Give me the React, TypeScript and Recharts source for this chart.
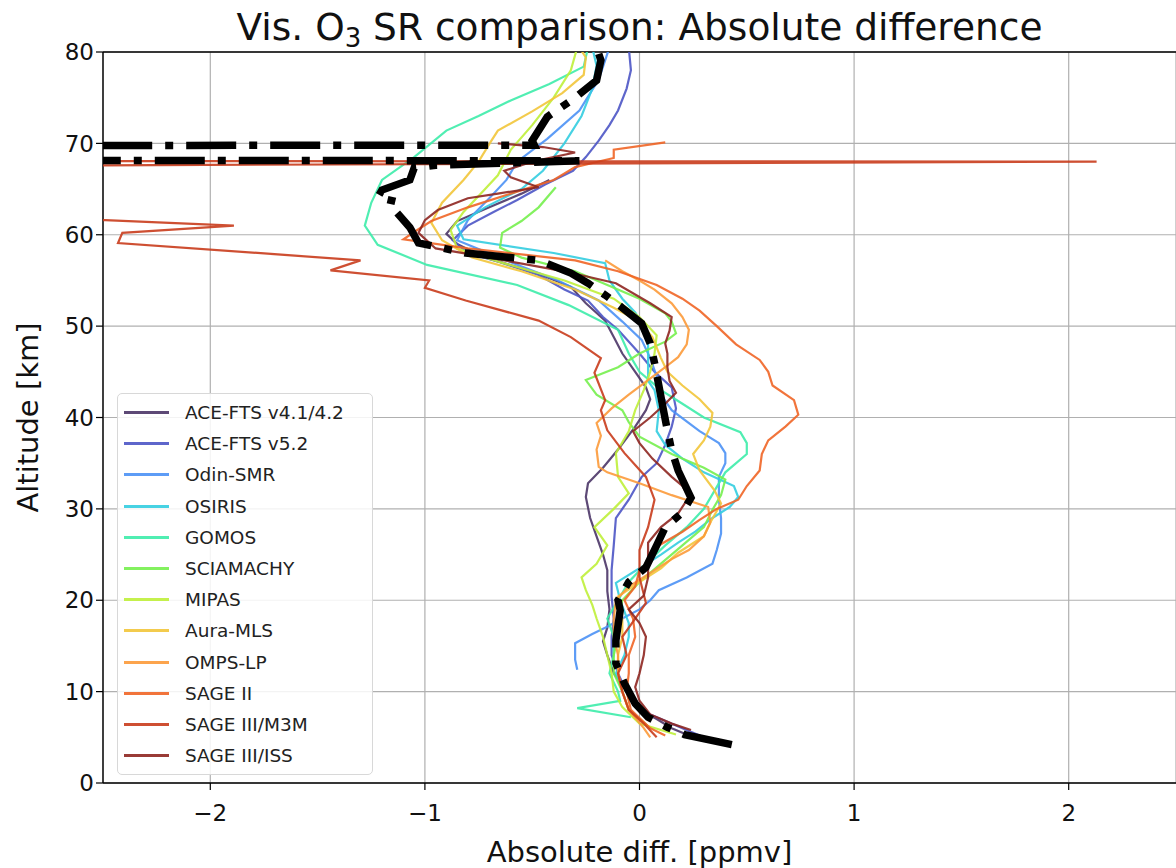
import React from "react";
import {
  ScatterChart,
  Scatter,
  XAxis,
  YAxis,
  CartesianGrid,
  ReferenceLine,
  Legend,
} from "recharts";

// [altitude km, absolute difference ppmv]
const aceFts41: number[][] = [
  [5, 0.25], [6, 0.15], [7, 0.08], [8, 0.0], [10, -0.06], [12, -0.12], [14, -0.15], [15.5, -0.17],
  [17, -0.15], [19, -0.14], [21, -0.15], [23.3, -0.15], [25, -0.17], [27, -0.2], [29, -0.23],
  [31.3, -0.25], [32.8, -0.24], [34.5, -0.17], [36.5, -0.1], [39, -0.02], [40.8, 0.03], [42, 0.05],
  [43.3, 0.03], [45, -0.02], [47, -0.08], [48.8, -0.12], [50.6, -0.16], [52.5, -0.25], [54.3, -0.32],
  [56, -0.5], [57.5, -0.72], [59, -0.85], [60.1, -0.9], [61.5, -0.85], [63, -0.7], [64.5, -0.55], [66, -0.42],
];
const aceFts52: number[][] = [
  [5, 0.3], [6, 0.2], [7, 0.1], [8, 0.0], [10, -0.06], [12, -0.1], [14, -0.13], [16, -0.13], [18, -0.12],
  [20.4, -0.13], [23.3, -0.13], [26, -0.12], [29, -0.11], [31, -0.05], [33.5, 0.01], [35, 0.08], [37, 0.12],
  [39, 0.15], [41, 0.17], [43.3, 0.15], [45, 0.07], [47, 0.0], [49.6, -0.1], [51, -0.17], [52.8, -0.24],
  [54, -0.35], [55.6, -0.47], [57, -0.65], [58, -0.8], [59.4, -0.87], [61, -0.8], [62.5, -0.68],
  [63.8, -0.57], [65.5, -0.44], [67, -0.31], [68.5, -0.25], [70.3, -0.19], [72, -0.14], [73.6, -0.1],
  [76, -0.06], [78, -0.04], [80.5, -0.05],
];
const odinSmr: number[][] = [
  [12.4, -0.29], [13.5, -0.3], [15.3, -0.3], [16.3, -0.22], [17, -0.16], [18, -0.08], [19, 0.0], [20, 0.05],
  [21.1, 0.09], [22.5, 0.22], [24, 0.34], [25.5, 0.36], [27.3, 0.38], [29, 0.38], [31, 0.37], [33.5, 0.37],
  [35, 0.4], [36.1, 0.4], [37.2, 0.37], [38.5, 0.28], [40.8, 0.15], [42.5, 0.1], [44.5, 0.08], [46.5, 0.05],
  [48.5, 0.01], [50.5, -0.08], [52.8, -0.19], [55, -0.38], [57, -0.6], [59.4, -0.85], [61.6, -0.8],
  [64, -0.7], [66, -0.62], [68, -0.57], [70.5, -0.43], [73.6, -0.28], [77, -0.19], [80.5, -0.14],
];
const osiris: number[][] = [
  [10, -0.08], [12, -0.11], [14, -0.07], [16, -0.05], [17.5, -0.05], [20, -0.09], [21.9, -0.11], [23.5, 0.0],
  [25, 0.1], [26.3, 0.18], [27.5, 0.26], [29, 0.34], [30.2, 0.42], [31.3, 0.46], [32.5, 0.44], [34, 0.3],
  [35.5, 0.2], [37, 0.12], [38.5, 0.08], [40.8, 0.09], [43, 0.07], [44, 0.04], [46, 0.04], [48, 0.04],
  [49.6, 0.03], [51.5, -0.02], [53, -0.08], [55, -0.14], [56.9, -0.16], [58, -0.4], [59.5, -0.82],
  [61, -0.85], [63, -0.72], [65, -0.55], [67, -0.45], [70, -0.35], [73, -0.27], [76, -0.22], [78.5, -0.2],
  [80.5, -0.22],
];
const gomos: number[][] = [
  [7.2, -0.04], [8.2, -0.29], [9, -0.09], [10, -0.1], [12, -0.14], [14, -0.12], [16, -0.12], [18, -0.15],
  [20, -0.1], [22, -0.05], [24, 0.03], [26, 0.12], [28, 0.22], [30, 0.3], [32, 0.35], [34, 0.4], [36, 0.5],
  [37.2, 0.5], [38.4, 0.47], [40, 0.3], [41.5, 0.2], [43, 0.1], [45, 0.0], [47, -0.05], [49.6, -0.1],
  [52.3, -0.33], [54.5, -0.57], [56.7, -0.99], [58.9, -1.22], [61, -1.28], [63.5, -1.25], [66, -1.2],
  [68.5, -1.05], [71.4, -0.9], [73, -0.75], [74.7, -0.6], [76.5, -0.42], [78.4, -0.26], [80.5, -0.24],
];
const sciamachy: number[][] = [
  [6, 0.05], [8, -0.05], [10, -0.08], [12, -0.12], [14, -0.12], [16, -0.1], [18, -0.1], [20, -0.08],
  [22, 0.0], [24, 0.1], [26, 0.2], [28, 0.3], [29.9, 0.34], [31.5, 0.38], [33.2, 0.4], [34.5, 0.3],
  [36, 0.15], [37.9, 0.0], [39.5, -0.05], [40.8, -0.08], [42.5, -0.2], [44.1, -0.25], [45.5, -0.1],
  [47, 0.0], [48.3, 0.12], [49.2, 0.17], [50.5, 0.15], [51.4, 0.12], [53, 0.0], [54.5, -0.15], [56, -0.3],
  [57.5, -0.55], [58.6, -0.65], [60.2, -0.64], [61.5, -0.55], [63, -0.47], [65.2, -0.39],
];
const mipas: number[][] = [
  [5.3, 0.17], [6.5, 0.0], [8.3, -0.08], [10, -0.12], [12, -0.13], [14, -0.15], [16, -0.17], [18, -0.2],
  [19.5, -0.22], [21.1, -0.25], [22.5, -0.27], [24, -0.2], [26, -0.15], [28, -0.21], [30, -0.12],
  [31.7, -0.05], [33.5, -0.1], [36.1, -0.11], [38.5, -0.05], [40.8, -0.02], [43, 0.02], [45, 0.05],
  [47, 0.07], [49, 0.08], [51, 0.0], [53, -0.12], [55, -0.35], [57, -0.65], [58.5, -0.85], [60.5, -0.88],
  [62.5, -0.82], [64.5, -0.74], [66.5, -0.66], [69.3, -0.6], [72, -0.5], [75, -0.4], [78, -0.32], [80.5, -0.29],
];
const auraMls: number[][] = [
  [6, 0.05], [8, -0.05], [10, -0.08], [12, -0.1], [14, -0.1], [16, -0.08], [18, -0.08], [20.4, -0.1],
  [22, 0.0], [23.5, 0.1], [25.2, 0.18], [27, 0.3], [28.5, 0.33], [30.6, 0.38], [32, 0.35], [34.2, 0.28],
  [36, 0.25], [37.5, 0.3], [39, 0.33], [40.5, 0.34], [42, 0.28], [43.5, 0.2], [45, 0.13], [46.5, 0.1],
  [48.8, 0.06], [50.5, 0.0], [52, -0.12], [54, -0.3], [56, -0.55], [57.5, -0.78], [59.4, -0.92],
  [61.3, -0.97], [63.5, -0.92], [66, -0.82], [68, -0.75], [70.3, -0.69], [71.4, -0.66], [73.5, -0.5],
  [75.5, -0.36], [77.5, -0.26], [79.4, -0.25], [80.5, -0.28],
];
const ompsLp: number[][] = [
  [5, 0.05], [6, 0.02], [8, -0.05], [10, -0.08], [12, -0.1], [14, -0.1], [16, -0.12], [18, -0.12],
  [20, -0.11], [21.5, -0.05], [23, 0.05], [24.5, 0.15], [25.5, 0.23], [27, 0.3], [28.5, 0.33], [30.2, 0.32],
  [31.5, 0.15], [32.8, 0.0], [34, -0.15], [34.6, -0.19], [36.5, -0.2], [38, -0.18], [39.4, -0.2],
  [41, -0.13], [42.5, -0.05], [44.1, 0.04], [45.5, 0.12], [46.6, 0.18], [48, 0.22], [49.6, 0.23],
  [51, 0.2], [52.5, 0.15], [54, 0.07], [55, 0.0], [56, -0.08], [57.2, -0.16],
];
const sage2: number[][] = [
  [5.2, 0.12], [6, 0.05], [8, -0.04], [10, -0.06], [12, -0.05], [14, -0.05], [16, -0.02], [18, -0.03],
  [20, -0.07], [21.5, -0.02], [23.3, 0.0], [24.5, 0.05], [26, 0.09], [27.5, 0.2], [28.8, 0.28], [30, 0.36],
  [31, 0.46], [32.5, 0.5], [34.2, 0.56], [36, 0.57], [37.5, 0.6], [39, 0.68], [40.3, 0.74], [41.9, 0.72],
  [43.5, 0.62], [45, 0.6], [46.3, 0.56], [48, 0.45], [50, 0.36], [51.7, 0.28], [53, 0.2], [54.5, 0.08],
  [56, -0.1], [57.2, -0.3], [58.5, -0.8], [59.5, -1.1], [60.3, -1.05], [61.5, -0.97], [63, -0.8],
  [64.5, -0.6], [66, -0.4], [67.4, -0.3], [68.4, -0.12], [69.3, -0.12], [70.1, 0.12],
];
const sage3M3m: number[][] = [
  [5, 0.08], [6.5, 0.02], [8, -0.05], [10, -0.08], [12, -0.1], [14, -0.06], [16, -0.08], [18, -0.02],
  [19.7, 0.03], [22.5, 0.0], [25.5, 0.0], [28, 0.04], [31, 0.07], [33.5, 0.03], [36.1, -0.07],
  [38.6, -0.15], [40.8, -0.18], [41.9, -0.16], [44.9, -0.21], [46.5, -0.18], [48.8, -0.32], [50.6, -0.47],
  [52.8, -0.81], [54.2, -1.0], [55, -0.98], [56.1, -1.44], [57.2, -1.3], [59.1, -2.43], [60.2, -2.41],
  [61, -1.89], [61.6, -2.49], [62, -3.5], [66.1, -20], [68.0, 2.13], [68.3, -20],
];
const sage3Iss: number[][] = [
  [5.8, 0.24], [6.5, 0.15], [7.5, 0.05], [9, 0.0], [10.5, -0.02], [12, 0.0], [14, 0.02], [16, 0.03],
  [17.5, 0.0], [19, -0.05], [20.5, 0.02], [22.5, 0.04], [24.5, 0.04], [26.3, 0.04], [28, 0.1], [29.5, 0.18],
  [31.3, 0.23], [32.5, 0.2], [33.5, 0.15], [35.5, 0.06], [37.2, 0.0], [38.5, -0.03], [40, 0.05],
  [41.5, 0.12], [42.7, 0.17], [44, 0.14], [45.5, 0.13], [47, 0.13], [48.1, 0.12], [49.5, 0.14], [51, 0.15],
  [52.5, 0.05], [54.7, -0.11], [56, -0.35], [57.5, -0.7], [58.5, -0.95], [60.2, -1.03], [61.6, -1.0],
  [62.7, -0.94], [64, -0.8], [64.5, -0.66], [65.2, -0.47], [66.3, -0.6], [67, -0.63], [68, -0.5],
  [69, -0.3], [69.6, -0.45], [70, -0.66],
];
const meanDiff: number[][] = [
  [4.2, 0.43], [5.3, 0.21], [6.1, 0.13], [7.2, 0.04], [8.7, -0.02], [10.9, -0.07], [13.1, -0.11],
  [15.6, -0.11], [18.9, -0.09], [20, -0.1], [22, -0.05], [23.6, 0.03], [26, 0.08], [28, 0.12], [29.6, 0.2],
  [31.2, 0.24], [34.2, 0.18], [36.4, 0.15], [38.6, 0.13], [41, 0.11], [43.5, 0.09], [46, 0.07], [48.1, 0.05],
  [50.3, 0.01], [52, -0.08], [53.4, -0.16], [54.7, -0.24], [55.8, -0.32], [57.2, -0.47], [58, -0.81],
  [59.1, -1.03], [60.8, -1.07], [62.4, -1.13], [63.6, -1.13], [64.1, -1.22], [64.9, -1.2], [66, -1.07],
  [67.3, -1.05], [67.6, -0.95], [68.1, -0.28], [69, -60], [69.8, -0.49], [70.3, -0.5], [72.9, -0.43],
  [75, -0.3], [76.9, -0.2], [79.1, -0.18], [80.5, -0.2],
];

const instrumentNames = [
  "ACE-FTS v4.1/4.2", "ACE-FTS v5.2", "Odin-SMR", "OSIRIS", "GOMOS", "SCIAMACHY",
  "MIPAS", "Aura-MLS", "OMPS-LP", "SAGE II", "SAGE III/M3M", "SAGE III/ISS",
];
const instrumentColors = [
  "#4b3567", "#4c55c5", "#4b91f5", "#33cde0", "#3decaa", "#75f04e",
  "#bff03a", "#f2c53a", "#fc9a3a", "#ef6526", "#c93c1c", "#8e2620",
];
const instrumentData = [
  aceFts41, aceFts52, odinSmr, osiris, gomos, sciamachy,
  mipas, auraMls, ompsLp, sage2, sage3M3m, sage3Iss,
];

const xTicks = [-2, -1, 0, 1, 2];
const yTicks = [0, 10, 20, 30, 40, 50, 60, 70, 80];

const FONT = "'DejaVu Sans', sans-serif";

const toPoints = (rows: number[][]) => rows.map(([alt, diff]) => ({ x: diff, y: alt }));
const fmtTick = (v: number) => (v < 0 ? `\u2212${Math.abs(v)}` : `${v}`);

const NoDot = () => <g />;

function LegendBox() {
  return (
    <div
      style={{
        width: 254,
        padding: "3px 0",
        border: "1px solid #d8d8d8",
        borderRadius: 5,
        background: "rgba(255,255,255,0.85)",
        fontFamily: FONT,
        fontSize: 18.5,
        color: "#222",
      }}
    >
      {instrumentNames.map((name, i) => (
        <div key={name} style={{ display: "flex", alignItems: "center", height: 31.2 }}>
          <span
            style={{
              display: "inline-block",
              marginLeft: 6,
              width: 45,
              height: 3,
              background: instrumentColors[i],
              opacity: 0.9,
            }}
          />
          <span style={{ marginLeft: 16, whiteSpace: "nowrap" }}>{name}</span>
        </div>
      ))}
    </div>
  );
}

export default function App() {
  return (
    <div style={{ position: "relative", width: 1176, height: 868, background: "#fff", overflow: "hidden" }}>
      <style>{"body{margin:0}"}</style>
      <div
        style={{
          position: "absolute",
          left: 103,
          width: 1073,
          top: 5,
          textAlign: "center",
          fontFamily: FONT,
          fontSize: 37.5,
          lineHeight: "44px",
          color: "#111",
          whiteSpace: "nowrap",
        }}
      >
        Vis. O<sub style={{ fontSize: 26, verticalAlign: -7, lineHeight: 0 }}>3</sub> SR comparison: Absolute difference
      </div>
      <ScatterChart width={1176} height={868} margin={{ top: 52, right: 0, bottom: 0, left: 0 }}>
        <CartesianGrid stroke="#b0b0b0" strokeWidth={1.2} />
        <XAxis
          type="number"
          dataKey="x"
          domain={[-2.5, 2.5]}
          ticks={xTicks}
          allowDataOverflow
          height={85}
          tickFormatter={fmtTick}
          tickSize={7}
          tickMargin={15}
          axisLine={{ stroke: "#000", strokeWidth: 1.4 }}
          tickLine={{ stroke: "#000", strokeWidth: 1.2 }}
          tick={{ fontSize: 23, fill: "#111", fontFamily: FONT }}
          label={{
            value: "Absolute diff. [ppmv]",
            position: "insideBottom",
            offset: 6,
            style: { fontSize: 29, fill: "#111", fontFamily: FONT },
          }}
        />
        <YAxis
          type="number"
          dataKey="y"
          domain={[0, 80]}
          ticks={yTicks}
          allowDataOverflow
          width={103}
          tickSize={7}
          tickMargin={2}
          axisLine={{ stroke: "#000", strokeWidth: 1.4 }}
          tickLine={{ stroke: "#000", strokeWidth: 1.2 }}
          tick={{ fontSize: 23, fill: "#111", fontFamily: FONT }}
          label={{
            value: "Altitude [km]",
            angle: -90,
            position: "insideLeft",
            offset: 28,
            style: { fontSize: 29, fill: "#111", fontFamily: FONT, textAnchor: "middle" },
          }}
        />
        <ReferenceLine y={80} stroke="#000" strokeWidth={1.4} ifOverflow="extendDomain" />
        {instrumentNames.map((name, i) => (
          <Scatter
            key={name}
            name={name}
            data={toPoints(instrumentData[i])}
            fill={instrumentColors[i]}
            line={{ stroke: instrumentColors[i], strokeWidth: 2.2, strokeOpacity: 0.9 }}
            shape={NoDot}
            isAnimationActive={false}
          />
        ))}
        <Scatter
          name="Mean"
          data={toPoints(meanDiff)}
          fill="#000"
          line={{ stroke: "#000", strokeWidth: 7.5, strokeDasharray: "50 13 8 13" }}
          shape={NoDot}
          isAnimationActive={false}
          legendType="none"
        />
        <Legend
          layout="vertical"
          align="center"
          verticalAlign="middle"
          wrapperStyle={{ left: 117, top: 393, width: "auto" }}
          content={() => <LegendBox />}
        />
      </ScatterChart>
    </div>
  );
}
